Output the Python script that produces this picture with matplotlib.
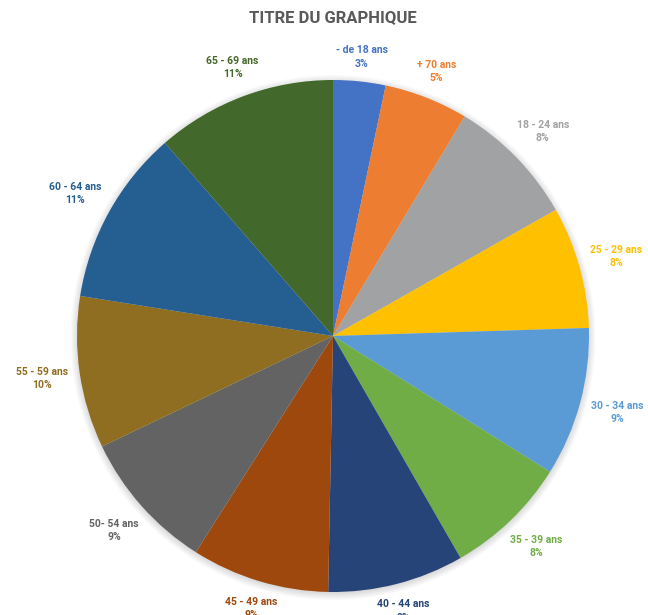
import matplotlib
matplotlib.use("Agg")
import matplotlib.pyplot as plt
from matplotlib.patches import Circle
import numpy as np

categories = ["- de 18 ans", "+ 70 ans", "18 - 24 ans", "25 - 29 ans", "30 - 34 ans",
              "35 - 39 ans", "40 - 44 ans", "45 - 49 ans", "50- 54 ans", "55 - 59 ans",
              "60 - 64 ans", "65 - 69 ans"]
values = [3.3, 5.3, 8.2, 7.7, 9.4, 7.8, 8.6, 8.7, 8.9, 9.6, 11.1, 11.4]
pct_labels = ["3%", "5%", "8%", "8%", "9%", "8%", "9%", "9%", "9%", "10%", "11%", "11%"]
colors = ["#4472C4", "#ED7D31", "#A0A2A3", "#FFC000", "#5B9BD5", "#70AD47",
          "#264478", "#9E480E", "#636363", "#8F6E22", "#255E91", "#43682B"]

plt.rcParams['font.family'] = ['Roboto', 'DejaVu Sans']

fig = plt.figure(figsize=(6.48, 6.15), dpi=100)
ax = fig.add_axes([0, 0, 1, 1])

# soft shadow behind the pie
for r in np.linspace(1.0, 1.025, 6):
    ax.add_patch(Circle((0, -0.006), r, facecolor="black", alpha=0.025,
                        edgecolor="none", zorder=0))

labels = [f"{c}\n{p}" for c, p in zip(categories, pct_labels)]
wedges, texts = ax.pie(values, colors=colors, startangle=90, counterclock=False,
                       labels=labels, labeldistance=1.1,
                       wedgeprops=dict(linewidth=0, zorder=2),
                       textprops=dict(fontsize=7.5, fontweight="bold", linespacing=1.4))

ax.set_xlim(-333 / 256, (648 - 333) / 256)
ax.set_ylim((336 - 615) / 256, 336 / 256)
ax.set_aspect("auto")
ax.axis("off")

fig.canvas.draw()
renderer = fig.canvas.get_renderer()
inv = ax.transData.inverted()
gap = 0.04
for t, c, w in zip(texts, colors, wedges):
    t.set_color(c)
    t.set_ha("center")
    t.set_va("center")
    theta = np.deg2rad((w.theta1 + w.theta2) / 2)
    bb = t.get_window_extent(renderer)
    (x0, y0), (x1, y1) = inv.transform([[bb.x0, bb.y0], [bb.x1, bb.y1]])
    hw, hh = abs(x1 - x0) / 2, abs(y1 - y0) / 2
    d = 1 + gap + abs(np.cos(theta)) * hw + abs(np.sin(theta)) * hh
    t.set_position((d * np.cos(theta), d * np.sin(theta)))

fig.text(333 / 648, 1 - 18 / 615, "TITRE DU GRAPHIQUE", ha="center", va="center",
         fontsize=12, fontweight="bold", color="#595959")

fig.savefig("out.png", dpi=100)
